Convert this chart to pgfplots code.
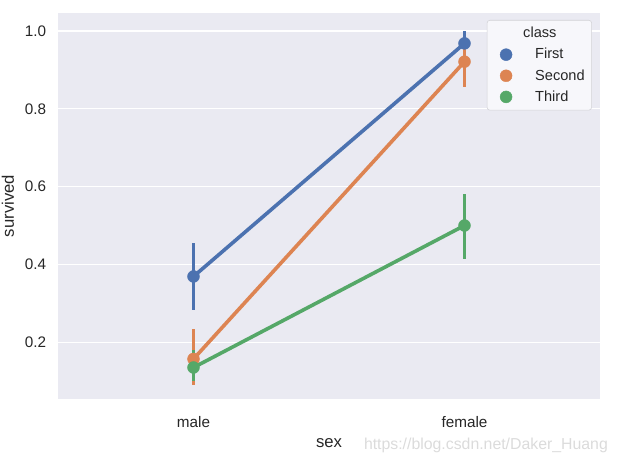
\documentclass[border=0pt]{standalone}
\usepackage{pgfplots}
\pgfplotsset{compat=1.18}
\usepackage{fontspec}
\setmainfont{Liberation Sans}
\definecolor{sbbg}{HTML}{EAEAF2}
\definecolor{sbtext}{HTML}{262626}
\definecolor{legbg}{HTML}{F7F7FB}
\definecolor{legedge}{HTML}{D2D2D6}
\definecolor{cFirst}{HTML}{4C72B0}
\definecolor{cSecond}{HTML}{DD8452}
\definecolor{cThird}{HTML}{55A868}
\begin{document}
\begin{tikzpicture}
\path[use as bounding box] (0,0) rectangle (444.2pt,331.2pt);
\begin{axis}[
  at={(41.76pt,43.92pt)}, anchor=south west,
  scale only axis, width=390.2pt, height=277.9pt,
  xmin=-0.5, xmax=1.5, ymin=0.054, ymax=1.046,
  axis background/.style={fill=sbbg},
  axis line style={draw=none},
  xtick={0,1}, xticklabels={male,female},
  ytick={0.2,0.4,0.6,0.8,1.0},
  yticklabel style={/pgf/number format/fixed, /pgf/number format/fixed zerofill, /pgf/number format/precision=1},
  /pgf/number format/assume math mode=true,
  major tick length=0pt,
  ymajorgrids, grid style={white, line width=0.9pt},
  tick label style={font=\fontsize{11}{13}\selectfont, text=sbtext},
  yticklabel style={xshift=-5pt},
  xticklabel style={yshift=-9pt},
  label style={font=\fontsize{12}{14}\selectfont, text=sbtext},
  xlabel={sex}, ylabel={survived},
  xlabel style={yshift=-1pt},
  ylabel style={yshift=1pt},
  legend style={at={(0.985,0.982)}, anchor=north east, fill=legbg,
    draw=legedge, rounded corners=2pt, font=\fontsize{10.5}{13}\selectfont, text=sbtext,
    row sep=2.1pt, inner sep=3pt},
  legend cell align=left,
  legend image code/.code={\draw[#1, only marks] plot coordinates {(0.33cm,0cm)}; \path (0cm,0cm) (0.95cm,0cm);},
  error bars/y dir=both, error bars/y explicit,
  error bars/error mark=none,
]
\addlegendimage{empty legend}
\addlegendentry{\hspace{-8.6pt}class}
\addplot[cFirst, line width=2.6pt, mark=*, mark size=4.3pt,
  mark options={solid, line width=0.3pt, fill=cFirst, draw=cFirst},
  error bars/error bar style={line width=2.6pt, cFirst}]
  coordinates {(0,0.369) += (0,0.087) -= (0,0.085) (1,0.968) += (0,0.032) -= (0,0.035)};
\addlegendentry{First}
\addplot[cSecond, line width=2.6pt, mark=*, mark size=4.3pt,
  mark options={solid, line width=0.3pt, fill=cSecond, draw=cSecond},
  error bars/error bar style={line width=2.6pt, cSecond}]
  coordinates {(0,0.157) += (0,0.078) -= (0,0.067) (1,0.921) += (0,0.05) -= (0,0.066)};
\addlegendentry{Second}
\addplot[cThird, line width=2.6pt, mark=*, mark size=4.3pt,
  mark options={solid, line width=0.3pt, fill=cThird, draw=cThird},
  error bars/error bar style={line width=2.6pt, cThird}]
  coordinates {(0,0.135) += (0,0.045) -= (0,0.035) (1,0.5) += (0,0.082) -= (0,0.086)};
\addlegendentry{Third}
\end{axis}
\node[anchor=east, text=black!14, font=\fontsize{11.4}{13}\selectfont, inner sep=0pt] at (437.8pt,10.3pt) {https://blog.csdn.net/Daker\_Huang};
\end{tikzpicture}
\end{document}
